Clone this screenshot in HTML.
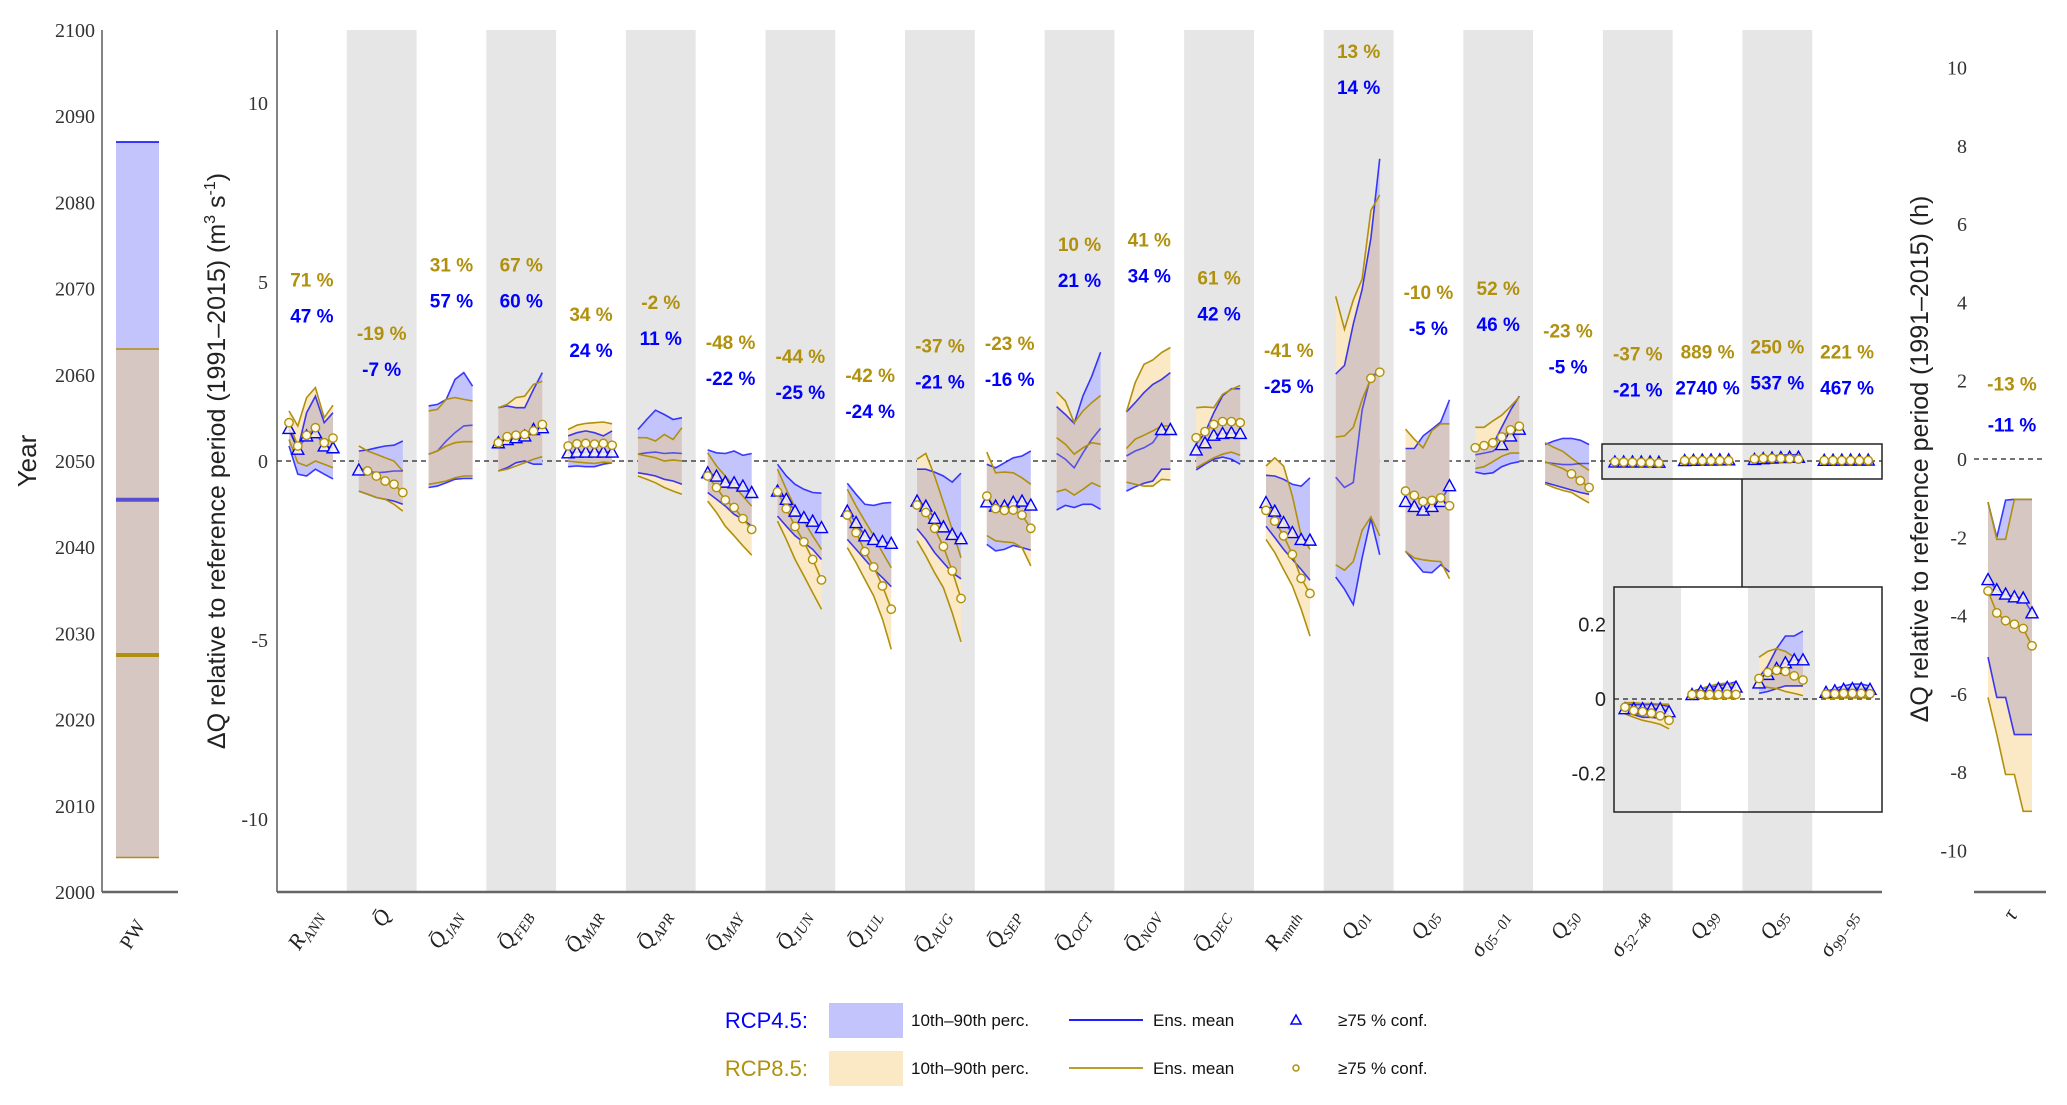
<!DOCTYPE html>
<html><head><meta charset="utf-8"><style>
html,body{margin:0;padding:0;background:#fff;}
svg{display:block;font-family:"Liberation Sans",sans-serif;}
</style></head><body>
<svg id="chart" width="2067" height="1105" viewBox="0 0 2067 1105" xmlns="http://www.w3.org/2000/svg">
<defs id="defs"></defs>
<g id="left"></g>
<g id="main"></g>
<g id="inset"></g>
<g id="right"></g>
<g id="legend"></g>
</svg>
<script>
// ---------- data ----------
const categories = ["R_ANN","Q̄","Q̄_JAN","Q̄_FEB","Q̄_MAR","Q̄_APR","Q̄_MAY","Q̄_JUN","Q̄_JUL","Q̄_AUG","Q̄_SEP","Q̄_OCT","Q̄_NOV","Q̄_DEC","R_mnth","Q_01","Q_05","σ_05−01","Q_50","σ_52−48","Q_99","Q_95","σ_99−95","τ"];
const pctRCP85 = ["71 %","-19 %","31 %","67 %","34 %","-2 %","-48 %","-44 %","-42 %","-37 %","-23 %","10 %","41 %","61 %","-41 %","13 %","-10 %","52 %","-23 %","-37 %","889 %","250 %","221 %","-13 %"];
const pctRCP45 = ["47 %","-7 %","57 %","60 %","24 %","11 %","-22 %","-25 %","-24 %","-21 %","-16 %","21 %","34 %","42 %","-25 %","14 %","-5 %","46 %","-5 %","-21 %","2740 %","537 %","467 %","-11 %"];
const blueHi = [
[0.88,0.33,1.35,1.81,1.07,1.35],[0.28,0.31,0.37,0.42,0.44,0.56],[1.54,1.58,1.72,2.28,2.47,2.09],[1.49,1.54,1.49,1.49,2.0,2.47],
[0.7,0.79,0.84,0.79,0.7,0.84],[0.88,1.16,1.42,1.30,1.16,1.21],[0.31,0.23,0.21,0.28,0.16,0.21],[-0.09,-0.42,-0.65,-0.79,-0.88,-0.9],
[-0.62,-0.93,-1.21,-1.24,-1.18,-1.16],[-0.23,-0.23,-0.31,-0.42,-0.59,-0.34],[-0.09,-0.19,-0.05,0.09,0.14,0.28],[1.52,1.30,1.05,1.82,2.37,3.04],
[1.37,1.63,1.91,2.14,2.28,2.47],[0.47,0.79,1.35,1.82,2.02,2.02],[-0.40,-0.42,-0.51,-0.65,-0.70,-0.47],[2.43,2.67,3.83,4.79,6.23,8.44],
[0.35,0.35,0.70,0.89,1.09,1.71],[0.41,0.46,0.46,0.94,1.42,1.81],[0.46,0.56,0.63,0.63,0.58,0.46],[-0.015,-0.015,-0.015,-0.015,-0.015,-0.02],
[0.02,0.028,0.031,0.035,0.04,0.046],[0.058,0.089,0.135,0.169,0.169,0.182],[0.02,0.028,0.035,0.04,0.04,0.035],[-1.1,-2.0,-1.05,-1.03,-1.03,-1.03]];
const blueLo = [
[0.42,-0.37,-0.42,-0.23,-0.37,-0.5],[-0.84,-0.93,-1.02,-1.07,-1.12,-1.21],[-0.74,-0.70,-0.61,-0.51,-0.49,-0.49],[-0.28,-0.19,-0.05,0,-0.09,-0.09],
[-0.16,-0.14,-0.16,-0.16,-0.09,-0.05],[-0.33,-0.37,-0.42,-0.51,-0.56,-0.65],[-0.88,-1.07,-1.26,-1.49,-1.63,-1.82],[-1.54,-1.82,-2.09,-2.28,-2.47,-2.75],
[-2.19,-2.47,-2.75,-3.03,-3.26,-3.51],[-1.89,-2.19,-2.56,-2.84,-3.12,-3.29],[-2.33,-2.51,-2.47,-2.36,-2.42,-2.49],[-1.37,-1.24,-1.30,-1.21,-1.21,-1.35],
[-0.84,-0.72,-0.62,-0.56,-0.23,-0.23],[-0.25,-0.09,0.05,0.11,0.05,-0.09],[-1.82,-2.14,-2.47,-2.75,-3.03,-3.33],[-3.24,-3.58,-4.01,-2.71,-1.61,-2.62],
[-2.52,-2.81,-3.10,-3.12,-2.90,-3.10],[-0.31,-0.36,-0.33,-0.16,-0.07,-0.02],[-0.6,-0.67,-0.74,-0.81,-0.88,-0.93],[-0.034,-0.042,-0.049,-0.049,-0.052,-0.042],
[0.002,0.002,0.002,0.002,0.003,0.003],[0.015,0.02,0.028,0.035,0.035,0.035],[0.003,0.003,0.004,0.004,0.004,0.004],[-5.06,-6.09,-6.09,-7.04,-7.04,-7.04]];
const blueMean = [
[0.91,0.33,0.70,0.79,0.42,0.37],[-0.25,-0.28,-0.33,-0.31,-0.28,-0.28],[0.19,0.28,0.56,0.79,0.98,1.0],[0.51,0.6,0.65,0.70,0.88,0.93],
[0.23,0.25,0.25,0.25,0.25,0.25],[0.19,0.23,0.25,0.21,0.23,0.21],[-0.33,-0.42,-0.59,-0.61,-0.7,-0.88],[-0.84,-1.07,-1.40,-1.58,-1.68,-1.86],
[-1.40,-1.72,-2.09,-2.19,-2.25,-2.30],[-1.12,-1.26,-1.60,-1.84,-2.05,-2.17],[-1.14,-1.26,-1.26,-1.15,-1.12,-1.23],[0.21,0.05,-0.19,0.23,0.61,0.91],
[0.14,0.28,0.37,0.51,0.88,0.88],[0.31,0.51,0.72,0.77,0.79,0.77],[-1.16,-1.40,-1.72,-2.0,-2.19,-2.21],[-0.45,-0.74,-0.6,1.42,2.38,2.48],
[-1.13,-1.27,-1.37,-1.27,-1.13,-0.69],[0.17,0.22,0.27,0.46,0.70,0.89],[-0.04,-0.07,-0.10,-0.10,-0.07,-0.07],[-0.026,-0.026,-0.026,-0.026,-0.026,-0.034],
[0.012,0.02,0.025,0.028,0.031,0.032],[0.043,0.066,0.082,0.097,0.105,0.105],[0.018,0.022,0.026,0.028,0.028,0.026],[-3.08,-3.34,-3.45,-3.52,-3.55,-3.93]];
const goldHi = [
[1.40,0.98,1.77,2.05,1.21,1.56],[0.42,0.28,0.19,0.09,0,-0.28],[1.40,1.44,1.72,1.77,1.72,1.68],[1.49,1.58,1.77,1.81,2.14,2.23],
[0.88,1.0,1.05,1.07,1.09,1.04],[0.65,0.65,0.56,0.74,0.6,0.93],[0.23,-0.14,-0.42,-0.7,-0.98,-1.26],[-0.23,-0.79,-1.3,-1.68,-2.09,-2.47],
[-0.79,-1.26,-1.68,-2.09,-2.56,-2.98],[0.05,0.21,-0.42,-1.16,-1.91,-2.70],[0.25,-0.33,-0.31,-0.33,-0.47,-0.65],[1.93,1.68,1.07,1.40,1.63,1.83],
[1.37,2.19,2.70,2.82,3.03,3.17],[1.49,1.51,1.49,1.86,2.0,2.11],[-0.14,0.09,-0.14,-0.98,-2.09,-2.47],[4.6,3.68,4.5,5.08,7.0,7.43],
[0.89,0.61,0.37,0.85,1.04,1.04],[0.94,0.94,1.12,1.28,1.52,1.79],[0.51,0.38,0.27,0.08,-0.1,-0.26],[-0.01,-0.01,-0.012,-0.012,-0.014,-0.014],
[0.015,0.028,0.035,0.04,0.043,0.035],[0.112,0.128,0.135,0.128,0.112,0.097],[0.015,0.02,0.028,0.031,0.031,0.028],[-1.1,-2.05,-2.05,-1.03,-1.03,-1.03]];
const goldLo = [
[0.6,-0.05,-0.14,0.0,-0.09,-0.19],[-0.84,-0.93,-1.02,-1.07,-1.21,-1.40],[-0.65,-0.61,-0.56,-0.47,-0.42,-0.42],[-0.28,-0.23,-0.14,-0.05,0.05,0.12],
[0,-0.03,-0.05,-0.07,-0.03,-0.05],[-0.42,-0.51,-0.61,-0.74,-0.84,-0.93],[-1.12,-1.44,-1.82,-2.09,-2.37,-2.63],[-1.68,-2.19,-2.75,-3.21,-3.68,-4.14],
[-2.42,-2.84,-3.31,-3.77,-4.42,-5.26],[-2.23,-2.65,-3.12,-3.54,-4.24,-5.05],[-2.08,-2.23,-2.26,-2.28,-2.42,-2.93],[-0.86,-0.79,-0.95,-0.79,-0.61,-0.72],
[-0.59,-0.65,-0.70,-0.70,-0.51,-0.53],[-0.19,-0.05,0.09,0.19,0.25,0.16],[-2.19,-2.56,-3.03,-3.49,-4.14,-4.89],[-2.9,-3.05,-2.81,-1.94,-1.56,-2.09],
[-2.52,-2.71,-2.76,-2.79,-2.81,-3.29],[-0.21,-0.16,-0.02,0.13,0.22,0.22],[-0.64,-0.74,-0.82,-0.88,-1.03,-1.17],[-0.04,-0.049,-0.057,-0.062,-0.068,-0.08],
[0.002,0.002,0.002,0.002,0.002,0.002],[0.035,0.031,0.028,0.02,0.015,0.009],[0.002,0.002,0.003,0.003,0.003,0.003],[-6.09,-7.04,-8.06,-8.06,-9.0,-9.0]];
const goldMean = [
[1.07,0.42,0.72,0.93,0.51,0.64],[-0.19,-0.28,-0.42,-0.56,-0.65,-0.88],[0.19,0.28,0.42,0.51,0.54,0.54],[0.51,0.68,0.72,0.74,0.84,1.02],
[0.42,0.48,0.49,0.47,0.49,0.44],[0.19,0.14,0.09,0,0.03,0],[-0.42,-0.74,-1.09,-1.30,-1.61,-1.91],[-0.86,-1.33,-1.83,-2.26,-2.75,-3.32],
[-1.51,-2.0,-2.53,-2.96,-3.49,-4.14],[-1.23,-1.44,-1.88,-2.39,-3.07,-3.84],[-0.98,-1.33,-1.38,-1.37,-1.51,-1.88],[0.65,0.47,0.19,0.37,0.51,0.47],
[0.35,0.61,0.72,0.84,0.98,0.98],[0.65,0.82,1.02,1.1,1.1,1.07],[-1.38,-1.68,-2.09,-2.61,-3.28,-3.70],[0.67,0.70,0.94,1.71,2.31,2.48],
[-0.84,-0.96,-1.13,-1.10,-1.03,-1.25],[0.37,0.43,0.51,0.67,0.87,0.97],[-0.02,-0.12,-0.21,-0.36,-0.55,-0.74],[-0.022,-0.031,-0.034,-0.038,-0.045,-0.057],
[0.012,0.012,0.012,0.012,0.013,0.012],[0.055,0.071,0.077,0.074,0.062,0.051],[0.013,0.014,0.015,0.015,0.015,0.014],[-3.37,-3.93,-4.13,-4.22,-4.33,-4.77]];
const triMarks = ["111111","100000","000000","111111","111111","000000","111111","111111","111111","111111","111111","000000","000011","111111","111111","000000","111111","000111","000000","111111","111111","111111","111111","111111"];
const circMarks = ["111111","011111","000000","111111","111111","000000","111111","111111","111111","111111","111111","000000","000000","111111","111111","000011","111111","111111","000111","111111","111111","111111","111111","111111"];
const mainTicks = [10,5,0,-5,-10];
const insetTicks = [0.2,0,-0.2];
const tauTicks = [10,8,6,4,2,0,-2,-4,-6,-8,-10];
const yearTicks = [2100,2090,2080,2070,2060,2050,2040,2030,2020,2010,2000];
const periodRCP45 = [2063,2087];
const periodRCP85 = [2004,2063];
const medianYearRCP45 = 2045.5;
const medianYearRCP85 = 2027.5;

// ---------- scales ----------
const NS="http://www.w3.org/2000/svg";
const BLUE="#0000ff", GOLD="#b0900c";
const FB="#c4c4fc", FG="#fbe8c4", FO="#d7c7c3";
const mainX0=277, mainX1=1882, catW=(1882-277)/23;
const yMain=v=>461-35.8*v;
const yIns=v=>699-373*v;
const yTau=v=>459-39.15*v;
const yYear=v=>461-(v-2050)*8.62;
const ptX=(x0,k)=>x0+12+k*8.8;
function el(tag,attrs,parent,text){const e=document.createElementNS(NS,tag);for(const k in attrs)e.setAttribute(k,attrs[k]);if(text!==undefined)e.textContent=text;parent.appendChild(e);return e;}
const defs=document.getElementById('defs');
let clipN=0;

function drawSeries(g,i,x0,ys,name){
  const bh=blueHi[i],bl=blueLo[i],bm=blueMean[i],gh=goldHi[i],gl=goldLo[i],gm=goldMean[i];
  const pts=(a)=>a.map((v,k)=>ptX(x0,k).toFixed(1)+','+ys(v).toFixed(1));
  const poly=(h,l)=>pts(h).concat(pts(l).reverse()).join(' ');
  const bp=poly(bh,bl), gp=poly(gh,gl);
  const s=el('g',{},g);
  
  
  const b=el('polygon',{points:bp,fill:FB},s);
  
  
  const gg=el('polygon',{points:gp,fill:FG},s);
  
  
  const cid='cl'+(clipN++);
  const cp=el('clipPath',{id:cid},defs);
  el('polygon',{points:bp},cp);
  const ov=el('polygon',{points:gp,fill:FO,'clip-path':'url(#'+cid+')'},s);
  
  
  const line=(a,c,op,nm)=>{const p=el('polyline',{points:pts(a).join(' '),fill:'none',stroke:c,'stroke-width':1.6,'stroke-opacity':op},s);};
  line(bh,BLUE,0.75,name+'-rcp45-p90');line(bl,BLUE,0.75,name+'-rcp45-p10');
  line(gh,GOLD,1,name+'-rcp85-p90');line(gl,GOLD,1,name+'-rcp85-p10');
  line(bm,BLUE,0.6,name+'-rcp45-mean');line(gm,GOLD,1,name+'-rcp85-mean');
  bm.forEach((v,k)=>{ if(triMarks[i][k]==='1'){const x=ptX(x0,k),y=ys(v);
    const t=el('polygon',{points:`${x},${y-6} ${x-6},${y+5} ${x+6},${y+5}`,fill:'#f4f0e8','fill-opacity':0.85,stroke:BLUE,'stroke-width':1.4},s);
    }});
  gm.forEach((v,k)=>{ if(circMarks[i][k]==='1'){
    const c=el('circle',{cx:ptX(x0,k),cy:ys(v),r:4.2,fill:'#fffbe8',stroke:GOLD,'stroke-width':1.4},s);
    }});
}
function subLabel(g,x,y,label,name){
  const parts=label.split('_');
  const t=el('text',{x:x,y:y,'text-anchor':'end','font-family':'"Liberation Serif",serif','font-style':'italic','font-size':22,fill:'#222',transform:`rotate(-58 ${x} ${y})`},g);
  
  
  el('tspan',{},t,parts[0]);
  if(parts[1]) el('tspan',{'font-size':15,dy:5},t,parts[1]);
}

// ---------- left panel ----------
const L=document.getElementById('left');
yearTicks.forEach(v=>{const t=el('text',{x:95,y:yYear(v)+7,'text-anchor':'end','font-family':'"Liberation Serif",serif','font-size':20,fill:'#333'},L,String(v));});
let a=el('line',{x1:102,y1:30,x2:102,y2:892,stroke:'#333','stroke-width':1.2},L);
a=el('line',{x1:102,y1:892,x2:178,y2:892,stroke:'#666','stroke-width':2.5},L);
a=el('rect',{x:116,y:yYear(periodRCP45[1]),width:43,height:yYear(periodRCP45[0])-yYear(periodRCP45[1]),fill:FB},L);
a=el('rect',{x:116,y:yYear(periodRCP85[1]),width:43,height:yYear(periodRCP85[0])-yYear(periodRCP85[1]),fill:FO},L);
el('line',{x1:116,x2:159,y1:yYear(periodRCP45[1]),y2:yYear(periodRCP45[1]),stroke:BLUE,'stroke-width':1.5},L);
el('line',{x1:116,x2:159,y1:yYear(periodRCP85[1]),y2:yYear(periodRCP85[1]),stroke:GOLD,'stroke-width':1.5},L);
el('line',{x1:116,x2:159,y1:yYear(periodRCP85[0]),y2:yYear(periodRCP85[0]),stroke:GOLD,'stroke-width':1.5},L);
a=el('line',{x1:116,x2:159,y1:yYear(medianYearRCP45),y2:yYear(medianYearRCP45),stroke:'#5a4fd0','stroke-width':4},L);
a=el('line',{x1:116,x2:159,y1:yYear(medianYearRCP85),y2:yYear(medianYearRCP85),stroke:GOLD,'stroke-width':4},L);
a=el('text',{x:36,y:461,'text-anchor':'middle','font-size':26,fill:'#222',transform:'rotate(-90 36 461)'},L,'Year');
a=el('text',{x:146,y:925,'text-anchor':'end','font-family':'"Liberation Serif",serif','font-size':20,fill:'#222',transform:'rotate(-58 146 925)'},L,'PW');

// ---------- main panel ----------
const M=document.getElementById('main');
for(let i=1;i<23;i+=2){const r=el('rect',{x:mainX0+i*catW,y:30,width:catW,height:862,fill:'#e6e6e6'},M);}
a=el('line',{x1:mainX0,y1:30,x2:mainX0,y2:892,stroke:'#333','stroke-width':1.2},M);
a=el('line',{x1:mainX0,y1:892,x2:mainX1,y2:892,stroke:'#666','stroke-width':2.5},M);
mainTicks.forEach(v=>{const t=el('text',{x:268,y:yMain(v)+7,'text-anchor':'end','font-family':'"Liberation Serif",serif','font-size':20,fill:'#333'},M,String(v));});
a=el('line',{x1:mainX0,y1:yMain(0),x2:mainX1,y2:yMain(0),stroke:'#222','stroke-width':1.3,'stroke-dasharray':'5,4'},M);
a=el('text',{x:225,y:461,'text-anchor':'middle','font-size':25,fill:'#222',transform:'rotate(-90 225 461)'},M);

el('tspan',{},a,'ΔQ relative to reference period (1991–2015) (m');el('tspan',{'font-size':16,dy:-10},a,'3');el('tspan',{dy:10},a,' s');el('tspan',{'font-size':16,dy:-10},a,'-1');el('tspan',{dy:10},a,')');
for(let i=0;i<23;i++){
  const x0=mainX0+i*catW, cx=x0+catW/2;
  drawSeries(M,i,x0,yMain,'cat-'+i);
  const top=yMain(Math.max(...blueHi[i],...goldHi[i]));
  let t=el('text',{x:cx,y:top-108+7,'text-anchor':'middle','font-weight':'bold','font-size':19,fill:GOLD},M,pctRCP85[i]);
  
  t=el('text',{x:cx,y:top-72+7,'text-anchor':'middle','font-weight':'bold','font-size':19,fill:BLUE},M,pctRCP45[i]);
  
  subLabel(M,cx+10,915,categories[i],'x-tick-label');
}
// zoom box + connector
a=el('rect',{x:1602,y:444,width:280,height:35,fill:'none',stroke:'#222','stroke-width':1.5},M);
a=el('line',{x1:1742,y1:479,x2:1742,y2:587,stroke:'#222','stroke-width':1.5},M);

// ---------- inset ----------
const I=document.getElementById('inset');
a=el('rect',{x:1614,y:587,width:268,height:225,fill:'#fff'},I);
const iw=67;
[0,2].forEach(j=>{const r=el('rect',{x:1614+j*iw,y:587,width:iw,height:225,fill:'#e6e6e6'},I);});
a=el('line',{x1:1614,y1:yIns(0),x2:1882,y2:yIns(0),stroke:'#222','stroke-width':1.3,'stroke-dasharray':'5,4'},I);
for(let j=0;j<4;j++) drawSeries(I,19+j,1614+j*iw-1,yIns,'inset-cat-'+(19+j));
insetTicks.forEach(v=>{const t=el('text',{x:1606,y:yIns(v)+7,'text-anchor':'end','font-size':20,fill:'#222'},I,String(v));});
a=el('rect',{x:1614,y:587,width:268,height:225,fill:'none',stroke:'#222','stroke-width':1.5},I);

// ---------- tau panel ----------
const R=document.getElementById('right');
tauTicks.forEach(v=>{const t=el('text',{x:1967,y:yTau(v)+7,'text-anchor':'end','font-family':'"Liberation Serif",serif','font-size':20,fill:'#333'},R,String(v));});
a=el('line',{x1:1974,y1:892,x2:2046,y2:892,stroke:'#666','stroke-width':2.5},R);
a=el('line',{x1:1974,y1:yTau(0),x2:2046,y2:yTau(0),stroke:'#222','stroke-width':1.3,'stroke-dasharray':'5,4'},R);
drawSeries(R,23,1976,yTau,'tau');
(function(){const top=yTau(Math.max(...blueHi[23],...goldHi[23]));
let t=el('text',{x:2012,y:top-116+7,'text-anchor':'middle','font-weight':'bold','font-size':19,fill:GOLD},R,pctRCP85[23]);
t=el('text',{x:2012,y:top-75+7,'text-anchor':'middle','font-weight':'bold','font-size':19,fill:BLUE},R,pctRCP45[23]);})();
subLabel(R,2018,915,'τ','tau-x-label');
a=el('text',{x:1928,y:459,'text-anchor':'middle','font-size':25,fill:'#222',transform:'rotate(-90 1928 459)'},R,'ΔQ relative to reference period (1991–2015) (h)');

// ---------- legend ----------
const G=document.getElementById('legend');
[[1020,'RCP4.5:',BLUE,FB,'triangle'],[1068,'RCP8.5:',GOLD,FG,'circle']].forEach(([y,lab,c,f,m])=>{
  let t=el('text',{x:808,y:y+8,'text-anchor':'end','font-size':22,fill:c},G,lab);
  t=el('rect',{x:829,y:y-17,width:74,height:35,fill:f},G);
  t=el('text',{x:911,y:y+6,'font-size':17,fill:'#111'},G,'10th–90th perc.');
  t=el('line',{x1:1069,x2:1143,y1:y,y2:y,stroke:c,'stroke-width':1.8},G);
  t=el('text',{x:1153,y:y+6,'font-size':17,fill:'#111'},G,'Ens. mean');
  if(m==='triangle') t=el('polygon',{points:`1296,${y-5} 1291,${y+4} 1301,${y+4}`,fill:'none',stroke:c,'stroke-width':1.5},G);
  else t=el('circle',{cx:1296,cy:y,r:3,fill:'none',stroke:c,'stroke-width':1.5},G);
  
  t=el('text',{x:1338,y:y+6,'font-size':17,fill:'#111'},G,'≥75 % conf.');
});
</script>
</body></html>
